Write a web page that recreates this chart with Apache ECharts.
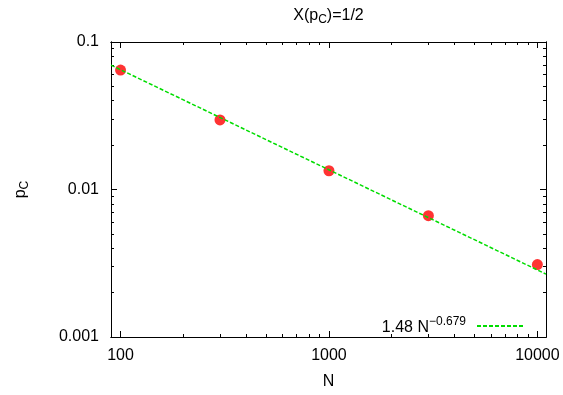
<!DOCTYPE html>
<html>
<head>
<meta charset="utf-8">
<script src="https://cdn.jsdelivr.net/npm/echarts@6/dist/echarts.min.js"></script>
<style>html,body{margin:0;padding:0;background:#fff}#c{width:563px;height:395px}</style>
</head>
<body>
<div id="c"></div>
<script>
// Data
const nValues = [100, 300, 1000, 3000, 10000];
const pcValues = [0.0645, 0.0296, 0.0134, 0.00664, 0.0031];
// fitted power law 1.48 N^-0.679, endpoints read at the frame edges
const fitN = [90, 11000];
const fitP = [0.0697, 0.00267];
// axis ranges and ticks
const xRange = [90, 11000];
const yRange = [0.001, 0.1];
const xMajor = [100, 1000, 10000];
const xMinor = [200, 300, 400, 500, 600, 700, 800, 900, 2000, 3000, 4000, 5000, 6000, 7000, 8000, 9000];
const yMajor = [0.001, 0.01, 0.1];
const yMinor = [0.002, 0.003, 0.004, 0.005, 0.006, 0.007, 0.008, 0.009, 0.02, 0.03, 0.04, 0.05, 0.06, 0.07, 0.08, 0.09];
const xLabels = ['100', '1000', '10000'];
const yLabels = ['0.001', '0.01', '0.1'];

const FONT = 'Liberation Sans';
const fmt = (vals, labels) => v => {
  for (let i = 0; i < vals.length; i++) if (Math.abs(Math.log10(v) - Math.log10(vals[i])) < 1e-6) return labels[i];
  return '';
};
const black = '#000';
function axisBase(range, extra) {
  return Object.assign({
    type: 'log', logBase: 10, min: range[0], max: range[1],
    axisLine: {show: true, lineStyle: {color: black, width: 1}},
    splitLine: {show: false}, minorTick: {show: false},
    axisLabel: {show: false}
  }, extra);
}
const majorTick = (vals) => ({show: true, inside: true, length: 6, customValues: vals, lineStyle: {color: black, width: 1}});
const minorTick = (vals) => ({show: true, inside: true, length: 3, customValues: vals, lineStyle: {color: black, width: 1}});

const chart = echarts.init(document.getElementById('c'), null, {renderer: 'canvas'});
chart.setOption({
  animation: false,
  backgroundColor: '#fff',
  textStyle: {fontFamily: FONT},
  grid: {left: 111, right: 17, top: 42, bottom: 55, containLabel: false},
  legend: {
    data: ['fit'], right: 38, top: 316, align: 'right', orient: 'horizontal', padding: 0,
    itemWidth: 47, itemHeight: 10, selectedMode: false,
    itemStyle: {opacity: 0, borderWidth: 0},
    formatter: () => '{a|1.48 N}{s|\u22120.679}',
    textStyle: {fontFamily: FONT, color: black, rich: {
      a: {fontSize: 16, fontFamily: FONT, color: black, verticalAlign: 'bottom'},
      s: {fontSize: 12, fontFamily: FONT, color: black, verticalAlign: 'top', padding: [0, 6, 8, 0]}
    }}
  },
  xAxis: [
    axisBase(xRange, {position: 'bottom', axisTick: majorTick(xMajor),
      axisLabel: {show: true, customValues: xMajor, formatter: fmt(xMajor, xLabels), color: black, fontSize: 16, fontFamily: FONT, margin: 11},
      name: 'N', nameLocation: 'middle', nameGap: 37, nameTextStyle: {fontSize: 16, color: black, fontFamily: FONT}}),
    axisBase(xRange, {position: 'top', axisTick: majorTick(xMajor),
      name: 'X(p{s|C})=1/2', nameLocation: 'middle', nameGap: 16,
      nameTextStyle: {fontSize: 16, color: black, fontFamily: FONT, rich: {s: {fontSize: 12, fontFamily: FONT, color: black, verticalAlign: 'bottom', padding: [8, 0, 0, 0]}}}}),
    axisBase(xRange, {position: 'bottom', axisTick: minorTick(xMinor)}),
    axisBase(xRange, {position: 'top', axisTick: minorTick(xMinor)})
  ],
  yAxis: [
    axisBase(yRange, {position: 'left', axisTick: majorTick(yMajor),
      axisLabel: {show: true, customValues: yMajor, formatter: fmt(yMajor, yLabels), color: black, fontSize: 16, fontFamily: FONT, margin: 12},
      name: 'p{s|C}', nameLocation: 'middle', nameGap: 80, nameRotate: 90,
      nameTextStyle: {fontSize: 16, color: black, fontFamily: FONT, rich: {s: {fontSize: 12, fontFamily: FONT, color: black, verticalAlign: 'bottom', padding: [8, 0, 0, 0]}}}}),
    axisBase(yRange, {position: 'right', axisTick: majorTick(yMajor)}),
    axisBase(yRange, {position: 'left', axisTick: minorTick(yMinor)}),
    axisBase(yRange, {position: 'right', axisTick: minorTick(yMinor)})
  ],
  series: [
    {
      name: 'data', type: 'scatter', xAxisIndex: 0, yAxisIndex: 0, z: 2,
      symbol: 'circle', symbolSize: 11, itemStyle: {color: '#ff0000'},
      data: nValues.map((n, i) => [n, pcValues[i]])
    },
    {
      name: 'fit', type: 'line', xAxisIndex: 0, yAxisIndex: 0, z: 3,
      symbol: 'none', showSymbol: false,
      lineStyle: {color: '#00dd00', width: 1.5, type: [4, 2]},
      itemStyle: {color: '#00dd00'},
      data: fitN.map((n, i) => [n, fitP[i]])
    }
  ]
});
</script>
</body>
</html>
